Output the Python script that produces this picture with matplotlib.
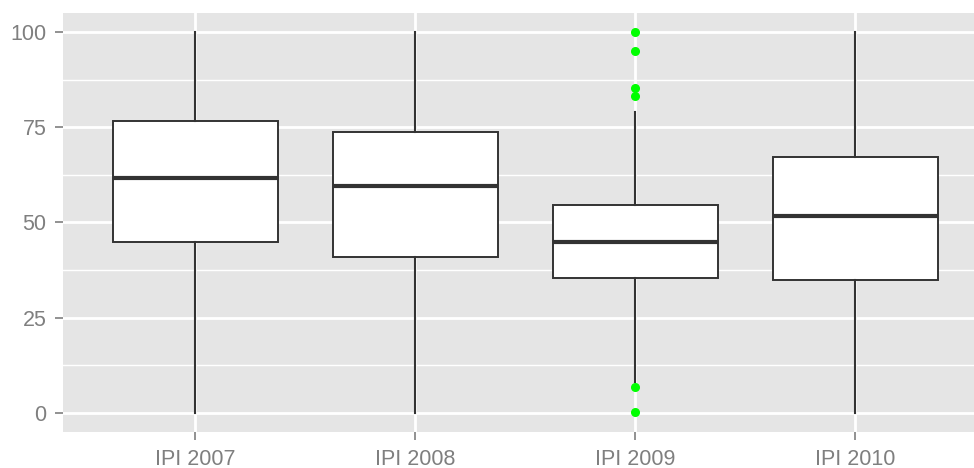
import numpy as np
import matplotlib.pyplot as plt
from matplotlib.ticker import MultipleLocator

plt.rcParams['font.family'] = ['Liberation Sans', 'DejaVu Sans']

# values
labels = ['IPI 2007', 'IPI 2008', 'IPI 2009', 'IPI 2010']
q1 = [45.0, 41.0, 35.3, 34.8]
med = [61.8, 59.5, 44.8, 51.6]
q3 = [76.7, 73.8, 54.6, 67.1]
whislo = [0.0, 0.0, 8.0, 0.0]
whishi = [100.0, 100.0, 78.9, 100.0]
fliers = [[], [], [100.0, 94.9, 85.4, 83.2, 6.8, 0.3], []]

stats = []
for i in range(len(labels)):
    stats.append(dict(label=labels[i], q1=q1[i], med=med[i], q3=q3[i],
                      whislo=whislo[i], whishi=whishi[i], fliers=fliers[i]))

fig = plt.figure(figsize=(9.74, 4.68), dpi=100)
ax = fig.add_axes([63 / 974, 36 / 468, 1 - 63 / 974, 419 / 468])
ax.set_facecolor('#E5E5E5')

box_c = '#333333'
ax.bxp(stats, positions=np.arange(1, 5), widths=0.75, patch_artist=True,
       showcaps=False, zorder=3,
       boxprops=dict(facecolor='white', edgecolor=box_c, linewidth=1.4),
       whiskerprops=dict(color=box_c, linewidth=1.5),
       medianprops=dict(color=box_c, linewidth=3),
       flierprops=dict(marker='o', markerfacecolor='#00FF00',
                       markeredgecolor='#00FF00', markersize=5.5))

ax.set_xlim(0.4, 4.54)
ax.set_ylim(-5, 105)
ax.yaxis.set_major_locator(MultipleLocator(25))
ax.yaxis.set_minor_locator(MultipleLocator(12.5))
ax.set_xticks(np.arange(1, 5))
ax.set_xticklabels(labels)

ax.grid(which='major', color='white', linewidth=2, zorder=0)
ax.grid(which='minor', axis='y', color='white', linewidth=1, zorder=0)
ax.set_axisbelow(True)
for s in ax.spines.values():
    s.set_visible(False)

ax.tick_params(which='major', length=6, width=1.2, color='#7F7F7F',
               labelcolor='#7F7F7F', labelsize=15.5, pad=6)
ax.tick_params(which='minor', length=0)

fig.savefig('out.png', dpi=100)
